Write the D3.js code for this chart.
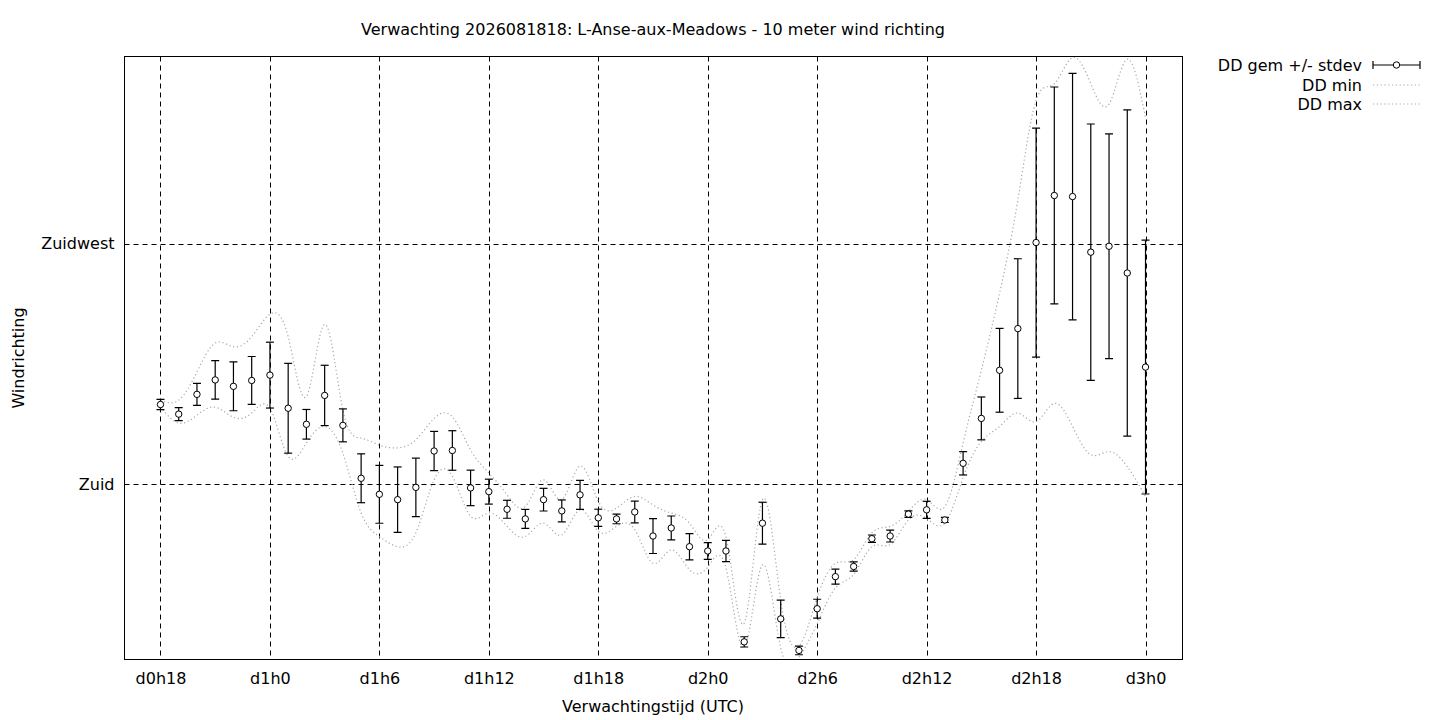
<!DOCTYPE html>
<html>
<head>
<meta charset="utf-8">
<script src="https://cdn.jsdelivr.net/npm/d3@7/dist/d3.min.js"></script>
<style>
  html, body { margin: 0; padding: 0; background: #fff; }
  svg text { font-family: "DejaVu Sans", sans-serif; fill: #000; }
</style>
</head>
<body>
<svg id="chart" width="1440" height="720"></svg>
<script>
// ---- data (hours since forecast base time, degrees) ----
const hours = [18,19,20,21,22,23,24,25,26,27,28,29,30,31,32,33,34,35,36,37,38,39,40,41,42,43,44,45,
               46,47,48,49,50,51,52,53,54,55,56,57,58,59,60,61,62,63,64,65,66,67,68,69,70,71,72];
const ddMean = [194.9,193.1,196.8,199.5,198.3,199.4,200.4,194.2,191.2,196.6,191.0,181.1,178.1,177.1,179.4,186.2,186.3,179.3,178.6,175.3,173.5,177.1,175.0,178.0,173.7,173.5,174.8,170.3,
                171.8,168.3,167.5,167.5,150.5,172.7,154.8,148.9,156.7,162.7,164.6,169.8,170.3,174.4,175.2,173.3,183.9,192.3,201.3,209.1,225.2,234.0,233.8,223.4,224.5,219.5,201.9];
const ddStdev = [0.96,1.21,2.05,3.60,4.57,4.48,6.16,8.40,2.77,5.64,3.08,4.57,5.41,6.12,5.47,3.67,3.70,3.32,2.33,1.68,1.77,2.12,2.05,2.71,1.61,0.91,2.03,3.27,
                 2.24,2.46,1.56,1.99,0.96,3.92,3.52,0.81,1.77,1.40,0.87,0.69,1.12,0.60,1.59,0.47,2.18,4.01,7.84,13.07,21.42,20.29,23.06,23.97,21.01,30.50,23.74];
const ddMin = [194.5,191.4,192.9,194.4,192.5,193.3,194.2,185.2,187.7,190.8,185.8,174.6,170.2,168.3,170.9,180.8,181.5,174.0,174.6,172.1,170.2,172.7,170.5,175.2,171.2,172.1,171.5,165.2,
               167.7,164.0,164.5,164.3,149.4,164.9,149.4,147.6,153.9,160.6,163.1,168.3,168.7,173.3,173.6,172.7,181.2,188.0,190.8,193.3,191.7,195.1,190.8,185.5,186.1,183.3,177.7];
const ddMax = [195.7,195.7,201.0,206.4,205.7,207.6,211.8,207.6,196.4,209.9,193.9,188.6,187.3,186.8,188.3,192.3,192.6,186.4,182.1,178.0,175.8,180.8,177.1,183.4,176.8,175.5,177.7,176.1,
               174.6,172.7,169.6,170.1,154.0,177.1,158.4,149.7,158.8,165.2,165.9,170.9,172.1,174.9,177.1,175.8,187.7,201.3,215.7,233.1,251.8,254.9,259.8,254.9,251.1,259.5,248.6];

const xTickValues = [18,24,30,36,42,48,54,60,66,72];
const xTickLabels = ["d0h18","d1h0","d1h6","d1h12","d1h18","d2h0","d2h6","d2h12","d2h18","d3h0"];
const yTickValues = [180,225];
const yTickLabels = ["Zuid","Zuidwest"];

const titleText = "Verwachting 2026081818: L-Anse-aux-Meadows - 10 meter wind richting";
const xLabel = "Verwachtingstijd (UTC)";
const yLabel = "Windrichting";
const legendLabels = ["DD gem +/- stdev","DD min","DD max"];

// ---- layout ----
const L = 124.5, R = 1182.5, T = 56.5, B = 659.5;
const FS = 16;
const svg = d3.select("#chart");

const x = d3.scaleLinear().domain([16, 74]).range([124, 1182]);
const y = d3.scaleLinear().domain([147.2, 260]).range([B, T]);

const rows = hours.map((h, i) => ({h, m: ddMean[i], s: ddStdev[i], lo: ddMin[i], hi: ddMax[i]}));

svg.append("defs").append("clipPath").attr("id","plotclip")
  .append("rect").attr("x", L).attr("y", T).attr("width", R - L).attr("height", B - T);

// grid
const grid = svg.append("g");
grid.selectAll("line.vx").data(xTickValues).join("line")
  .attr("x1", d => Math.round(x(d)) + 0.5).attr("x2", d => Math.round(x(d)) + 0.5)
  .attr("y1", T).attr("y2", B)
  .attr("stroke", "#000").attr("stroke-width", 1).attr("stroke-dasharray", "5,4");
grid.selectAll("line.hy").data(yTickValues).join("line")
  .attr("x1", L).attr("x2", R)
  .attr("y1", d => Math.round(y(d)) + 0.5).attr("y2", d => Math.round(y(d)) + 0.5)
  .attr("stroke", "#000").attr("stroke-width", 1).attr("stroke-dasharray", "5,4");

// axes (tick labels via d3 axes)
const xAxis = d3.axisBottom(x).tickValues(xTickValues)
  .tickFormat((d, i) => xTickLabels[i]).tickSize(0).tickPadding(13);
const gx = svg.append("g").attr("transform", `translate(0,${B})`).call(xAxis);
gx.select(".domain").remove();
gx.selectAll("text").attr("font-size", FS).attr("font-family", "DejaVu Sans");

const yAxis = d3.axisLeft(y).tickValues(yTickValues)
  .tickFormat((d, i) => yTickLabels[i]).tickSize(0).tickPadding(10);
const gy = svg.append("g").attr("transform", `translate(${L},0)`).call(yAxis);
gy.select(".domain").remove();
gy.selectAll("text").attr("font-size", FS).attr("font-family", "DejaVu Sans");

// min / max dotted curves
const plot = svg.append("g").attr("clip-path", "url(#plotclip)");
const lineMin = d3.line().x(d => x(d.h)).y(d => y(d.lo)).curve(d3.curveNatural);
const lineMax = d3.line().x(d => x(d.h)).y(d => y(d.hi)).curve(d3.curveNatural);
plot.append("path").datum(rows).attr("d", lineMin)
  .attr("fill", "none").attr("stroke", "#a8a8a8").attr("stroke-width", 1.2).attr("stroke-dasharray", "1.2,2.6");
plot.append("path").datum(rows).attr("d", lineMax)
  .attr("fill", "none").attr("stroke", "#a8a8a8").attr("stroke-width", 1.2).attr("stroke-dasharray", "1.2,2.6");

// error bars
const cap = 4;
const eb = plot.append("g").attr("stroke", "#000").attr("stroke-width", 1.2);
eb.selectAll("line.v").data(rows).join("line")
  .attr("x1", d => x(d.h)).attr("x2", d => x(d.h))
  .attr("y1", d => y(d.m + d.s)).attr("y2", d => y(d.m - d.s));
eb.selectAll("line.t").data(rows).join("line")
  .attr("x1", d => x(d.h) - cap).attr("x2", d => x(d.h) + cap)
  .attr("y1", d => y(d.m + d.s)).attr("y2", d => y(d.m + d.s));
eb.selectAll("line.b").data(rows).join("line")
  .attr("x1", d => x(d.h) - cap).attr("x2", d => x(d.h) + cap)
  .attr("y1", d => y(d.m - d.s)).attr("y2", d => y(d.m - d.s));
plot.append("g").selectAll("circle").data(rows).join("circle")
  .attr("cx", d => x(d.h)).attr("cy", d => y(d.m)).attr("r", 3.2)
  .attr("fill", "#fff").attr("stroke", "#000").attr("stroke-width", 1);

// frame
svg.append("rect").attr("x", L).attr("y", T).attr("width", R - L).attr("height", B - T)
  .attr("fill", "none").attr("stroke", "#000").attr("stroke-width", 1);

// titles
svg.append("text").attr("x", 653).attr("y", 35).attr("text-anchor", "middle")
  .attr("font-size", FS).text(titleText);
svg.append("text").attr("x", 653).attr("y", 712).attr("text-anchor", "middle")
  .attr("font-size", FS).text(xLabel);
svg.append("text").attr("transform", "translate(24,358) rotate(-90)").attr("text-anchor", "middle")
  .attr("font-size", FS).text(yLabel);

// legend
const lg = svg.append("g");
const lx1 = 1373, lx2 = 1420, ly = [65, 85, 104];
legendLabels.forEach((t, i) => {
  lg.append("text").attr("x", 1362).attr("y", ly[i] + 6).attr("text-anchor", "end")
    .attr("font-size", FS).text(t);
});
lg.append("line").attr("x1", lx1).attr("x2", lx2).attr("y1", ly[0]).attr("y2", ly[0])
  .attr("stroke", "#000").attr("stroke-width", 1.2);
[lx1, lx2].forEach(xx => lg.append("line").attr("x1", xx).attr("x2", xx)
  .attr("y1", ly[0] - cap).attr("y2", ly[0] + cap).attr("stroke", "#000").attr("stroke-width", 1.2));
lg.append("circle").attr("cx", (lx1 + lx2) / 2).attr("cy", ly[0]).attr("r", 3.2)
  .attr("fill", "#fff").attr("stroke", "#000");
[1, 2].forEach(i => lg.append("line").attr("x1", lx1).attr("x2", lx2).attr("y1", ly[i]).attr("y2", ly[i])
  .attr("stroke", "#a8a8a8").attr("stroke-width", 1.2).attr("stroke-dasharray", "1.2,2.6"));
</script>
</body>
</html>
